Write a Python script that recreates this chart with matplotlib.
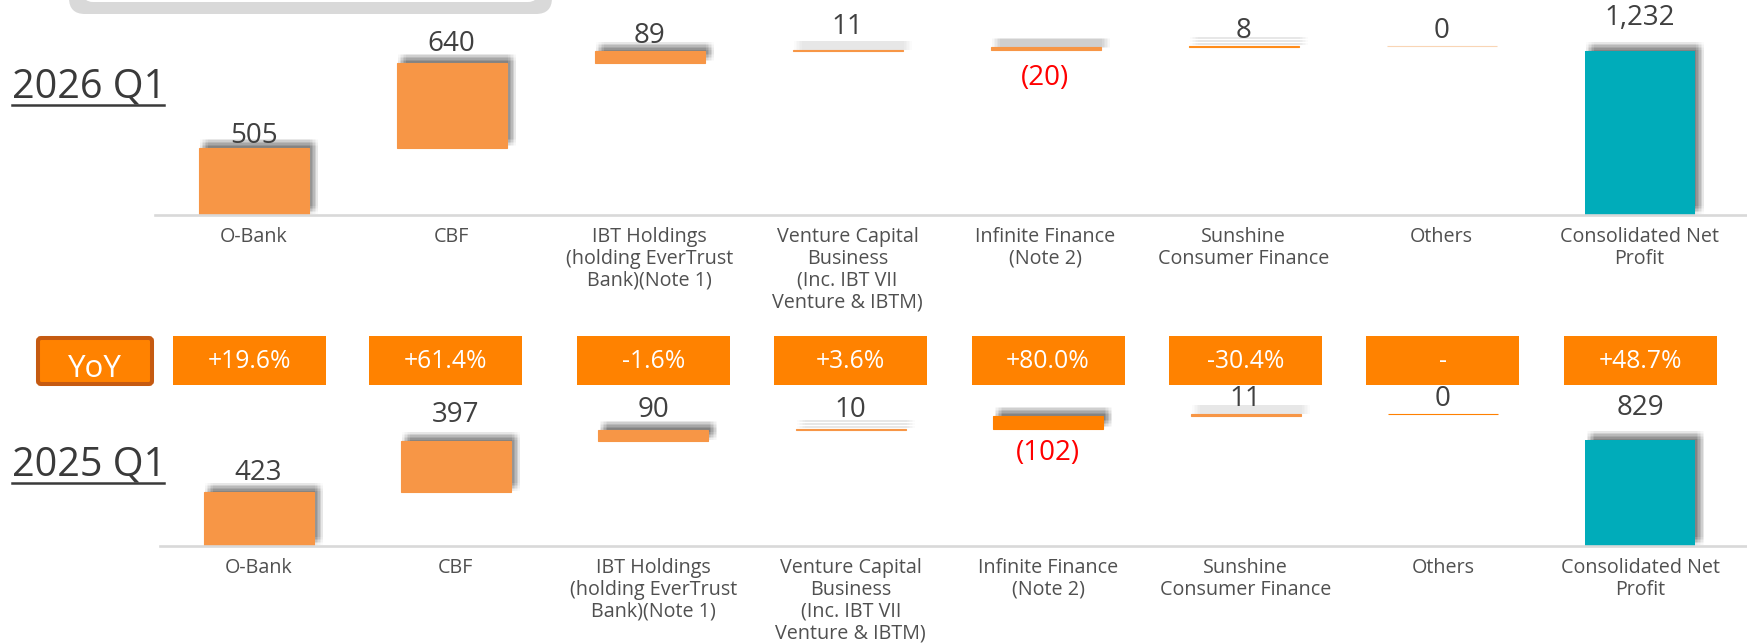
import numpy as np
import matplotlib
matplotlib.use("Agg")
import matplotlib.pyplot as plt
from matplotlib import patheffects as pe
from matplotlib.patches import Rectangle, FancyBboxPatch
from matplotlib.transforms import blended_transform_factory, IdentityTransform
from matplotlib.lines import Line2D

plt.rcParams['font.family'] = ['Open Sans', 'DejaVu Sans']

# data
categories = ["O-Bank", "CBF",
              "IBT Holdings\n(holding EverTrust\nBank)(Note 1)",
              "Venture Capital\nBusiness\n(Inc. IBT VII\nVenture & IBTM)",
              "Infinite Finance\n(Note 2)",
              "Sunshine\nConsumer Finance",
              "Others",
              "Consolidated Net\nProfit"]
profit_2026 = [505, 640, 89, 11, -20, 8, 0]
profit_2025 = [423, 397, 90, 10, -102, 11, 0]
total_2026 = 1232
total_2025 = 829
yoy = ["+19.6%", "+61.4%", "-1.6%", "+3.6%", "+80.0%", "-30.4%", "-", "+48.7%"]

# style
W, H = 1747, 644
PX = 100 / 72.0          # pixels per point
orange = "#F79646"
teal = "#00ACBA"
colors_2026 = [orange, orange, orange, orange, orange, "#FF8C1A", "#F9D5B5"]
colors_2025 = [orange, orange, orange, orange, "#FF8000", orange, "#FF8000"]
# distance (px) from bar edge to label centre
gaps_2026 = [15, 22, 18, 25, 26, 18, 18, 36]
gaps_2025 = [22, 29, 23, 22, 21, 18, 18, 35]
VAL_FS = 20
CAP = VAL_FS * PX * 0.714
box_shift = [-9, -10, 0, 0, 0, 0, 0, 0]   # px nudge of the YoY boxes

# soft drop shadow up and to the right
offs = (1.5, 3, 4.5, 6, 7.5, 9)
shadow = [pe.SimplePatchShadow(offset=(dx / PX, dy / PX), shadow_rgbFace="k", alpha=0.016)
          for dx in offs for dy in offs] + [pe.Normal()]

fig = plt.figure(figsize=(W / 100, H / 100), dpi=100)


def px_axes(left, top, width, height):
    return fig.add_axes([left / W, 1 - (top + height) / H, width / W, height / H])


def waterfall(ax, vals, total, colors, gaps, step, ymax):
    vals = np.array(vals)
    heights = np.abs(vals)
    bottoms = np.concatenate([[0], np.cumsum(heights)[:-1]])
    x = np.arange(len(vals))
    bw = 110 / step
    bars = ax.bar(x, heights, bottom=bottoms, width=bw, color=colors,
                  edgecolor=colors, linewidth=0.8)
    tbar = ax.bar([len(vals)], [total], width=bw, color=teal, linewidth=0)
    for b in list(bars) + list(tbar):
        b.set_path_effects(shadow)
    for i, v in enumerate(vals):
        if v < 0:
            ax.annotate(f"({-v:,})", xy=(i, bottoms[i]),
                        xytext=(0, -(gaps[i] + CAP / 2) / PX), textcoords="offset points",
                        ha="center", va="baseline", fontsize=VAL_FS, color="#FF0000")
        else:
            ax.annotate(f"{v:,}", xy=(i, bottoms[i] + heights[i]),
                        xytext=(0, (gaps[i] - CAP / 2) / PX), textcoords="offset points",
                        ha="center", va="baseline", fontsize=VAL_FS, color="#404040")
    ax.annotate(f"{total:,}", xy=(len(vals), total),
                xytext=(0, (gaps[-1] - CAP / 2) / PX), textcoords="offset points",
                ha="center", va="baseline", fontsize=VAL_FS, color="#404040")
    ax.set_ylim(0, ymax)
    for s in ["top", "left", "right"]:
        ax.spines[s].set_visible(False)
    ax.spines["bottom"].set_color("#D9D9D9")
    ax.spines["bottom"].set_linewidth(1.9)
    ax.set_yticks([])
    ax.set_xticks(range(len(categories)))
    ax.set_xticklabels(categories, fontsize=14.2, color="#505050", linespacing=1.12)
    ax.tick_params(axis="x", length=0, pad=8.5)
    ax.patch.set_alpha(0)


# top panel: first centre 253.5 px, step 198 px, baseline at 215 px
step_t, c0_t = 198.0, 253.5
left_t = c0_t - 0.5 * step_t
ax_top = px_axes(left_t, 0, W - left_t, 215)
ax_top.set_xlim(-0.5, -0.5 + (W - left_t) / step_t)
waterfall(ax_top, profit_2026, total_2026, colors_2026, gaps_2026, step_t, 215 / 0.1329)

# bottom panel: first centre 258.5 px, step 197.4 px, baseline at 546 px
step_b, c0_b = 197.4, 258.5
left_b = c0_b - 0.5 * step_b
ax_bot = px_axes(left_b, 336, W - left_b, 210)
ax_bot.set_xlim(-0.5, -0.5 + (W - left_b) / step_b)
waterfall(ax_bot, profit_2025, total_2025, colors_2025, gaps_2025, step_b, 210 / 0.1275)

# YoY row
tr = blended_transform_factory(ax_bot.transData, fig.transFigure)
bw_box = 153 / step_b
for i, txt in enumerate(yoy):
    xc = i + box_shift[i] / step_b
    fig.patches.append(Rectangle((xc - bw_box / 2, 1 - 385 / H), bw_box, 49 / H,
                                 transform=tr, facecolor="#FF8200", edgecolor="none"))
    fig.text(xc, 1 - 368.5 / H, txt, transform=tr, ha="center", va="baseline",
             fontsize=17.8, color="white")

yoy_box = FancyBboxPatch((38, H - 384), 114, 46, boxstyle="round,pad=0,rounding_size=3",
                         transform=IdentityTransform(), facecolor="#FF8200",
                         edgecolor="#C55A11", linewidth=2.9)
fig.patches.append(yoy_box)
fig.text(95 / W, 1 - 376.7 / H, "YoY", ha="center", va="baseline", fontsize=22.5,
         color="white")

# period labels with underline
for label, base, uline in [("2026 Q1", 97, 104.5), ("2025 Q1", 475, 483)]:
    fig.text(12 / W, 1 - base / H, label, ha="left", va="baseline", fontsize=28.5,
             color="#3A3A3A")
    fig.lines.append(Line2D([12 / W, 164 / W], [1 - uline / H] * 2,
                            transform=fig.transFigure, color="#3A3A3A", linewidth=1.8))

# grey rounded frame peeking in at the top
fig.patches.append(FancyBboxPatch((69, H - 14), 483, 60,
                                  boxstyle="round,pad=0,rounding_size=16",
                                  transform=IdentityTransform(), facecolor="#D9D9D9",
                                  edgecolor="none"))
fig.patches.append(FancyBboxPatch((83, H - 2), 455, 60,
                                  boxstyle="round,pad=0,rounding_size=10",
                                  transform=IdentityTransform(), facecolor="white",
                                  edgecolor="none"))

fig.savefig("out.png", dpi=100)
